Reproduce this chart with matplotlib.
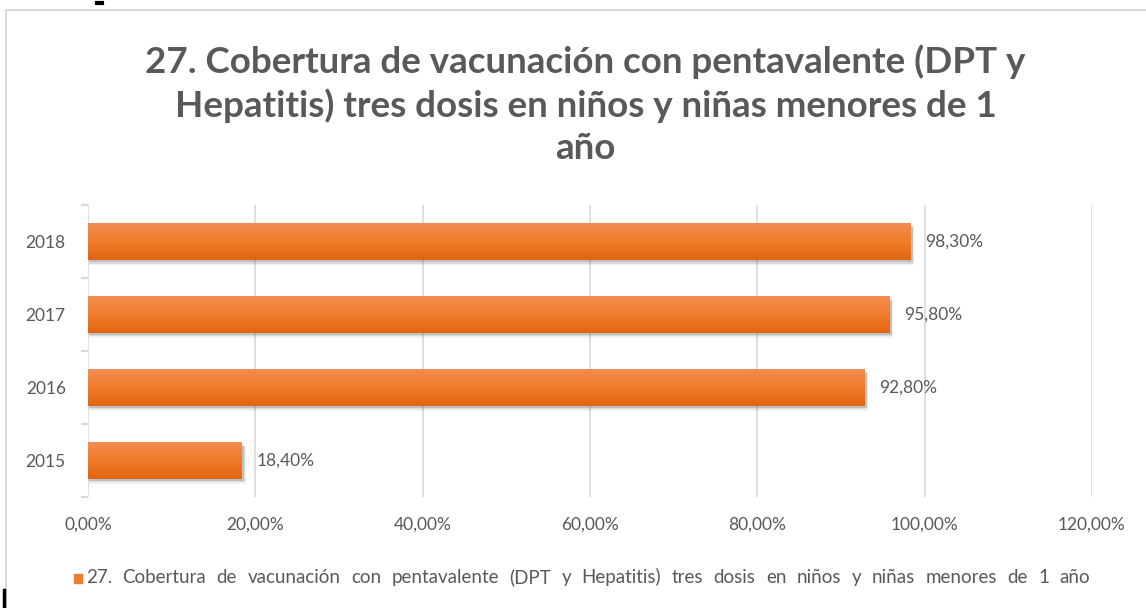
import numpy as np
import matplotlib.pyplot as plt
from matplotlib.patches import Rectangle
from matplotlib.lines import Line2D
from matplotlib.colors import LinearSegmentedColormap

# datos
years = ["2015", "2016", "2017", "2018"]
values = [0.184, 0.928, 0.958, 0.983]
value_labels = ["18,40%", "92,80%", "95,80%", "98,30%"]
xticks = [0, 0.2, 0.4, 0.6, 0.8, 1.0, 1.2]
xtick_labels = ["0,00%", "20,00%", "40,00%", "60,00%", "80,00%", "100,00%", "120,00%"]
title = ("27. Cobertura de vacunación con pentavalente (DPT y\n"
         "Hepatitis) tres dosis en niños y niñas menores de 1\naño")
serie = "27. Cobertura de vacunación con pentavalente (DPT y Hepatitis) tres dosis en niños y niñas menores de 1 año"

plt.rcParams['font.family'] = ['Lato', 'DejaVu Sans']
gris = '#595959'

fig = plt.figure(figsize=(11.46, 6.08), dpi=100)
ax = fig.add_axes([0.0768, 0.1826, 0.876, 0.480])

# marco del grafico
fig.patches.append(Rectangle((6/1146, -0.05), 1.2, 1 - 10/608 + 0.05, transform=fig.transFigure,
                             fill=False, edgecolor='#d9d9d9', lw=1.5))
# restos de la captura
fig.lines.append(Line2D([3.5/1146, 3.5/1146], [0, 18/608], transform=fig.transFigure, color='k', lw=2.5))
fig.lines.append(Line2D([97/1146, 102/1146], [1 - 3/608, 1 - 3/608], transform=fig.transFigure, color='k', lw=3))

y = np.arange(len(years))
h = 0.5
cmap = LinearSegmentedColormap.from_list('nar', ['#e2650f', '#f07c2c', '#f28d52'])
grad = np.linspace(0, 1, 100).reshape(-1, 1)

# sombra
for k, a in [(0.07, 0.07), (0.05, 0.12), (0.035, 0.18)]:
    ax.barh(y - k, np.array(values) + k * 0.05, height=h, left=0.001, color='#404040',
            alpha=a, lw=0, zorder=2)

bars = ax.barh(y, values, height=h, color='none', lw=0, zorder=3)
for b in bars:
    x0, y0 = b.get_x(), b.get_y()
    im = ax.imshow(grad, cmap=cmap, aspect='auto', origin='lower',
                   extent=[x0, x0 + b.get_width(), y0, y0 + b.get_height()], zorder=3)
    im.set_clip_path(b)

for yi, v, lab in zip(y, values, value_labels):
    ax.text(v + 0.018, yi, lab, va='center', ha='left', fontsize=12.5, color=gris, zorder=4)

ax.set_xlim(0, 1.2)
ax.set_ylim(-0.5, 3.5)
ax.set_xticks(xticks)
ax.set_xticklabels(xtick_labels)
ax.set_yticks(y)
ax.set_yticklabels(years)
ax.set_yticks(np.arange(-0.5, 4, 1), minor=True)
ax.tick_params(axis='both', which='major', length=0, labelsize=12.5, labelcolor=gris)
ax.tick_params(axis='x', pad=14)
ax.tick_params(axis='y', pad=16)
ax.tick_params(axis='y', which='minor', length=5, color='#d9d9d9', width=1.5)
ax.grid(axis='x', color='#d9d9d9', lw=1.2, zorder=0)
ax.set_axisbelow(True)
for s in ax.spines.values():
    s.set_visible(False)

fig.text(0.511, 0.927, title, ha='center', va='top', fontsize=26.5, fontweight='bold',
         color=gris, linespacing=1.33)

# leyenda (texto repartido entre x=86 y x=1090 px)
fig.patches.append(Rectangle((74/1146, 1 - 583/608), 8/1146, 9/608, transform=fig.transFigure,
                             color='#ed7d31'))
words = serie.split(' ')
renderer = fig.canvas.get_renderer()
ws = []
for w in words:
    t = fig.text(0, 0, w, fontsize=13.5)
    ws.append(t.get_window_extent(renderer).width)
    t.remove()
gap = (1090 - 86 - sum(ws)) / (len(words) - 1)
xpos = 86
for w, wd in zip(words, ws):
    fig.text(xpos/1146, 1 - 583/608, w, ha='left', va='baseline', fontsize=13.5, color=gris)
    xpos += wd + gap

fig.savefig('out.png', dpi=100)
